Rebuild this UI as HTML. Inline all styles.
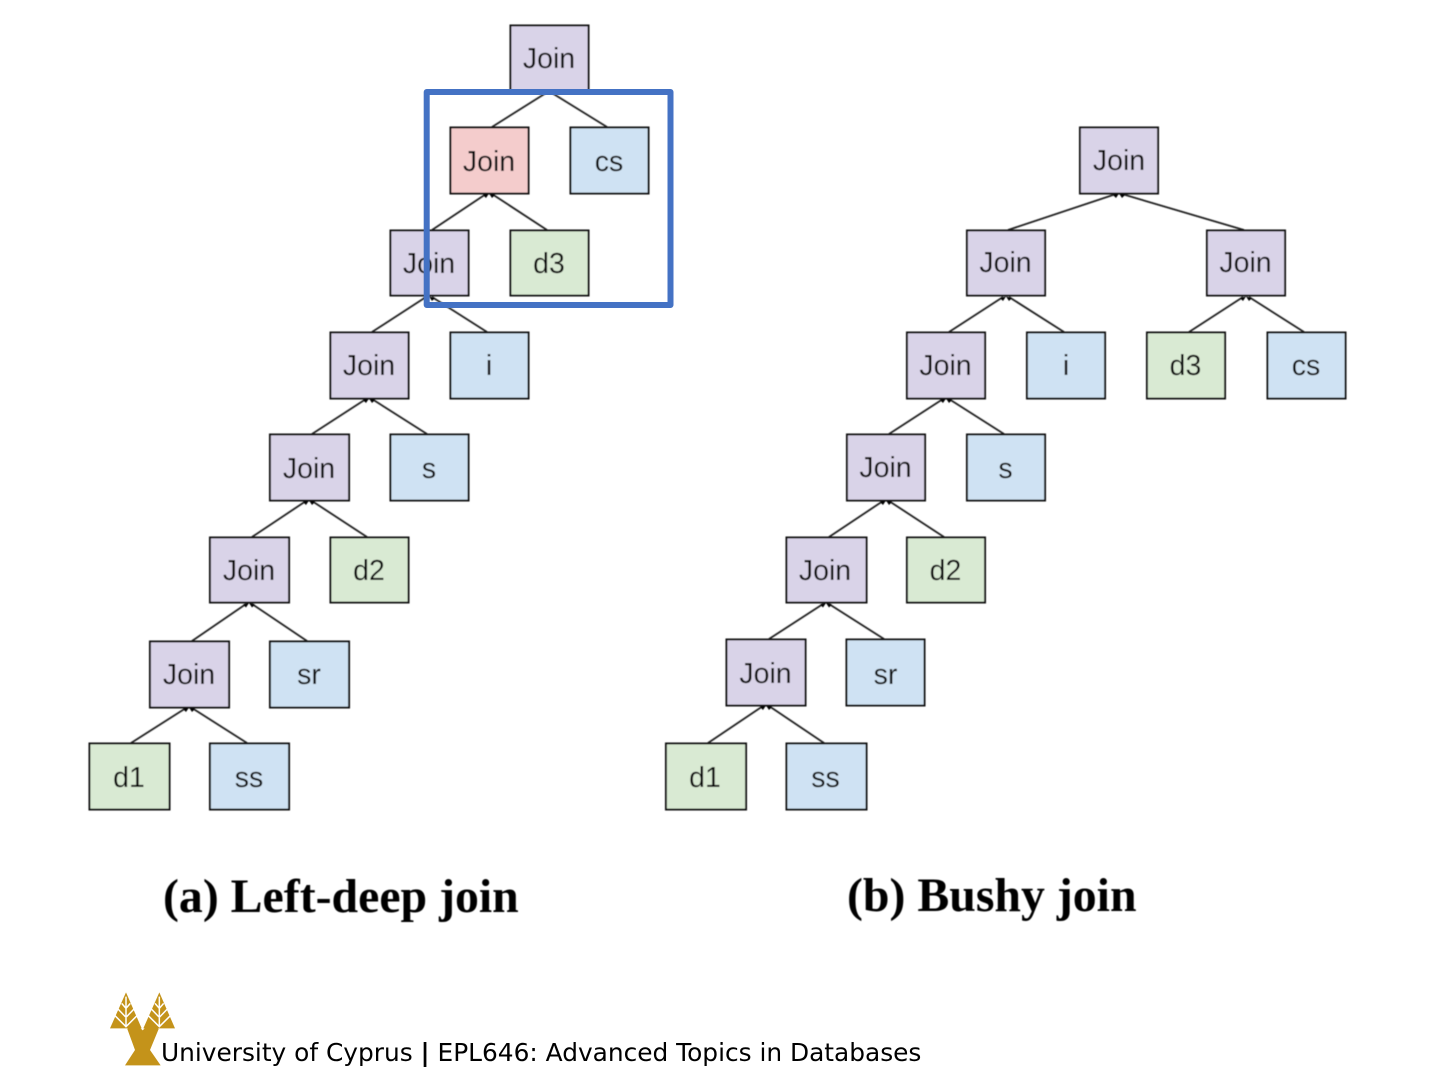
<!DOCTYPE html>
<html><head><meta charset="utf-8"><style>
html,body{margin:0;padding:0;background:#fff}
svg{display:block}
.n rect{stroke:#111;stroke-width:2}
.p{fill:#d9d3e8}.r{fill:#f4cccc}.b{fill:#cfe2f3}.g{fill:#d9ead3}
.n text{font:28.5px "Liberation Sans",sans-serif;fill:#111;text-anchor:middle}
.e path{stroke:#222;stroke-width:1.8;fill:none}
.e polygon{fill:#000}
.c{font:bold 47.800px "Liberation Serif",serif;fill:#000}
</style></head><body>
<svg width="1441" height="1080" viewBox="0 0 1441 1080" xmlns="http://www.w3.org/2000/svg">
<defs><filter id="s" x="-2%" y="-2%" width="104%" height="104%"><feGaussianBlur stdDeviation="0.45"/></filter></defs>
<g filter="url(#s)">
<g class="e">
<path d="M546 93L492 127M552 93L607 127M486 194L432 230M492 194L547 230M426 297L372 332M432 297L487 332M366 399L312 434M372 399L427 434M306 501L252 537M312 501L367 537M246 604L192 641M252 604L307 641M186 708L131 743M192 708L247 743"/>
<path d="M1116 194L1008 230M1122 194L1244 230M1003 297L949 332M1009 297L1064 332M1243 297L1189 332M1249 297L1304 332M943 399L889 434M949 399L1004 434M883 501L829 537M889 501L944 537M823 604L769 639M829 604L884 639M763 706L708 743M769 706L824 743"/>
<polygon points="489,193.500 483,195 486,198"/><polygon points="489,193.500 495,195 492,198"/>
<polygon points="429,296.500 423,298 426,301"/><polygon points="429,296.500 435,298 432,301"/>
<polygon points="369,398.500 363,400 366,403"/><polygon points="369,398.500 375,400 372,403"/>
<polygon points="309,500.500 303,502 306,505"/><polygon points="309,500.500 315,502 312,505"/>
<polygon points="249,603 243,604.500 246,607.500"/><polygon points="249,603 255,604.500 252,607.500"/>
<polygon points="189,707.500 183,709 186,712"/><polygon points="189,707.500 195,709 192,712"/>
<polygon points="1119,193.500 1113,195 1116,198"/><polygon points="1119,193.500 1125,195 1122,198"/>
<polygon points="1006,296.500 1000,298 1003,301"/><polygon points="1006,296.500 1012,298 1009,301"/>
<polygon points="1246,296.500 1240,298 1243,301"/><polygon points="1246,296.500 1252,298 1249,301"/>
<polygon points="946,398.500 940,400 943,403"/><polygon points="946,398.500 952,400 949,403"/>
<polygon points="886,500.500 880,502 883,505"/><polygon points="886,500.500 892,502 889,505"/>
<polygon points="826,603 820,604.500 823,607.500"/><polygon points="826,603 832,604.500 829,607.500"/>
<polygon points="766,705.500 760,707 763,710"/><polygon points="766,705.500 772,707 769,710"/>
</g>
<g class="n">
<rect class="p" x="510.500" y="25.500" width="78" height="66"/><text x="549" y="68">Join</text>
<rect class="r" x="450.500" y="127.500" width="78" height="66"/><text x="489" y="171">Join</text>
<rect class="b" x="570.500" y="127.500" width="78" height="66"/><text x="609" y="171">cs</text>
<rect class="p" x="390.500" y="230.500" width="78" height="65"/><text x="429" y="273">Join</text>
<rect class="g" x="510.500" y="230.500" width="78" height="65"/><text x="549" y="273">d3</text>
<rect class="p" x="330.500" y="332.500" width="78" height="66"/><text x="369" y="375">Join</text>
<rect class="b" x="450.500" y="332.500" width="78" height="66"/><text x="489" y="375">i</text>
<rect class="p" x="270" y="434.500" width="79" height="66"/><text x="309" y="478">Join</text>
<rect class="b" x="390.500" y="434.500" width="78" height="66"/><text x="429" y="478">s</text>
<rect class="p" x="210" y="537.500" width="79" height="65"/><text x="249" y="580">Join</text>
<rect class="g" x="330.500" y="537.500" width="78" height="65"/><text x="369" y="580">d2</text>
<rect class="p" x="150" y="641.500" width="79" height="66"/><text x="189" y="684">Join</text>
<rect class="b" x="270" y="641.500" width="79" height="66"/><text x="309" y="684">sr</text>
<rect class="g" x="89.500" y="743.500" width="80" height="66"/><text x="129" y="787">d1</text>
<rect class="b" x="210" y="743.500" width="79" height="66"/><text x="249" y="787">ss</text>

<rect class="p" x="1080" y="127.500" width="78" height="66"/><text x="1119" y="170">Join</text>
<rect class="p" x="967" y="230.500" width="78" height="65"/><text x="1005.500" y="272">Join</text>
<rect class="p" x="1207" y="230.500" width="78" height="65"/><text x="1245.500" y="272">Join</text>
<rect class="p" x="907" y="332.500" width="78" height="66"/><text x="945.500" y="375">Join</text>
<rect class="b" x="1027" y="332.500" width="78" height="66"/><text x="1066" y="375">i</text>
<rect class="g" x="1147" y="332.500" width="78" height="66"/><text x="1185.500" y="375">d3</text>
<rect class="b" x="1267.500" y="332.500" width="78" height="66"/><text x="1306" y="375">cs</text>
<rect class="p" x="847" y="434.500" width="78" height="66"/><text x="885.500" y="477">Join</text>
<rect class="b" x="967" y="434.500" width="78" height="66"/><text x="1005.500" y="478">s</text>
<rect class="p" x="786.500" y="537.500" width="80" height="65"/><text x="825" y="580">Join</text>
<rect class="g" x="907" y="537.500" width="78" height="65"/><text x="945.500" y="580">d2</text>
<rect class="p" x="726.500" y="639.500" width="79" height="66"/><text x="765.500" y="683">Join</text>
<rect class="b" x="846.500" y="639.500" width="78" height="66"/><text x="885.500" y="684">sr</text>
<rect class="g" x="666" y="743.500" width="80" height="66"/><text x="705" y="787">d1</text>
<rect class="b" x="786.500" y="743.500" width="80" height="66"/><text x="825.500" y="787">ss</text>
</g>
<text class="c" x="163" y="912">(a) Left-deep join</text>
<text class="c" x="847" y="911">(b) Bushy join</text>
</g>
<rect x="426.700" y="92" width="243.800" height="213" fill="none" stroke="#4472c4" stroke-width="6" stroke-linejoin="round"/>
<g transform="translate(100 985) scale(.33333)">
<path fill="#c4931a" d="M78 22L125 130H30ZM178 22L225 130H130Z"/>
<path fill="none" stroke="#fff" stroke-width="4.500" d="M78 35V122M45 92L78 125L111 92M54 72L78 97L102 72M65 55L78 70L91 55M178 35V122M145 92L178 125L211 92M154 72L178 97L202 72M165 55L178 70L191 55"/>
<path fill="#c4931a" d="M75 241L105 195L82 132L100 108L128 136L156 108L176 132L150 195L182 241Z"/>
</g>
<text x="161" y="1061" font-family="DejaVu Sans,sans-serif" font-size="24.840" fill="#000">University of Cyprus <tspan font-weight="bold">|</tspan> EPL646: Advanced Topics in Databases</text>
</svg>
</body></html>
